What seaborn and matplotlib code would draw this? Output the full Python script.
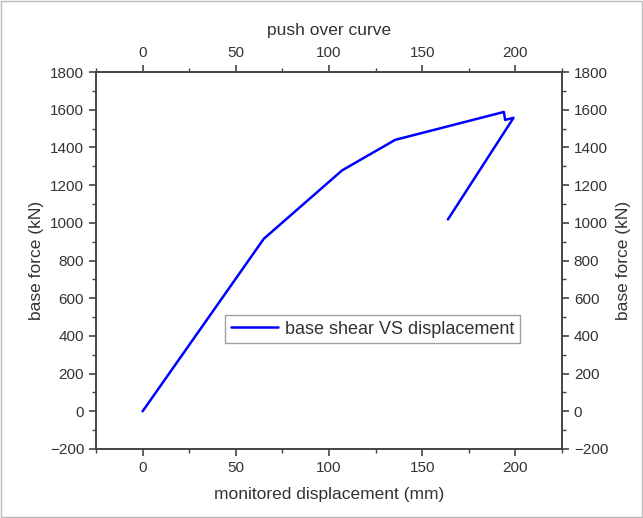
import matplotlib
matplotlib.use("Agg")
import matplotlib.pyplot as plt
import seaborn as sns
import pandas as pd
from matplotlib.ticker import MultipleLocator
from matplotlib.patches import Rectangle

displacement = [0, 65, 107, 135.5, 193.8, 194.5, 199, 163.8]
base_force = [0, 915, 1278, 1440, 1588, 1546, 1557, 1018]
series_name = "base shear VS displacement"

sns.set_style("ticks")
plt.rcParams['font.family'] = ['Liberation Sans', 'DejaVu Sans']

df = pd.DataFrame({"disp": displacement, "force": base_force, "series": series_name})

fig = plt.figure(figsize=(6.43, 5.18), dpi=100)
ax = fig.add_axes([96/643, 1-449/518, (562-96)/643, (449-72)/518])
sns.lineplot(data=df, x="disp", y="force", hue="series", sort=False, estimator=None,
             palette=["#0000FF"], linewidth=1.8, ax=ax)

ax.set_xlim(-25, 225)
ax.set_ylim(-200, 1800)

dark = "#333333"
ax.set_xlabel("monitored displacement (mm)", fontsize=12.5, color=dark, labelpad=9)
ax.set_ylabel("base force (kN)", fontsize=12.5, color=dark)

ax2 = ax.twinx()
ax2.set_ylim(ax.get_ylim())
ax2.set_yticks([])
ax2.set_ylabel("base force (kN)", fontsize=12.5, color=dark, labelpad=39)
for s in ax2.spines.values():
    s.set_visible(False)

ax3 = ax.twiny()
ax3.set_xlim(ax.get_xlim())
ax3.set_xticks([])
ax3.set_xlabel("push over curve", fontsize=12.5, color=dark, labelpad=27)
for s in ax3.spines.values():
    s.set_visible(False)

ax.xaxis.set_major_locator(MultipleLocator(50))
ax.xaxis.set_minor_locator(MultipleLocator(25))
ax.yaxis.set_major_locator(MultipleLocator(200))
ax.yaxis.set_minor_locator(MultipleLocator(100))
ax.xaxis.set_ticks_position("both")
ax.yaxis.set_ticks_position("both")
for s in ax.spines.values():
    s.set_color("#444444")
    s.set_linewidth(1.4)
ax.tick_params(which="major", direction="out", length=5, width=1.2, color="#444444",
               labelsize=11, labelcolor=dark, top=True, right=True, bottom=True, left=True,
               labeltop=True, labelright=True, labelbottom=True, labelleft=True)
ax.tick_params(which="minor", direction="out", length=3, width=1.0, color="#444444",
               top=True, right=True, bottom=True, left=True)

leg = ax.legend(loc="lower left", bbox_to_anchor=(0.258, 0.257), fontsize=13, frameon=True,
                fancybox=False, edgecolor="#888888", handlelength=2.6, borderpad=0.3,
                handletextpad=0.4)
leg.get_frame().set_linewidth(1.0)
for t in leg.get_texts():
    t.set_color(dark)

fig.patches.append(Rectangle((0.002, 0.002), 0.996, 0.996, transform=fig.transFigure,
                             fill=False, edgecolor="#bbbbbb", linewidth=1.0))

fig.savefig("out.png", dpi=100)
